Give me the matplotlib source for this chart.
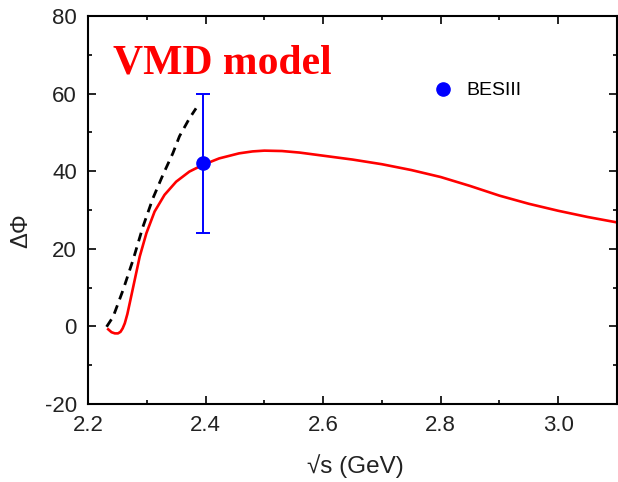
import matplotlib
matplotlib.use("Agg")
import matplotlib.pyplot as plt
import numpy as np

# VMD model curve (red)
vmd_x = [2.2344, 2.2400, 2.2457, 2.2510, 2.2553, 2.2590, 2.2626, 2.2670, 2.2710,
         2.2795, 2.2880, 2.2993, 2.3133, 2.3302, 2.3500, 2.3725, 2.3950, 2.4232,
         2.4570, 2.4800, 2.5000, 2.5300, 2.5600, 2.6000, 2.6500, 2.7000, 2.7500,
         2.8000, 2.8500, 2.9000, 2.9500, 3.0000, 3.0500, 3.1000]
vmd_y = [-0.75, -1.5, -1.8, -1.8, -1.4, -0.5, 0.8, 3.2, 6.0,
         12.0, 18.0, 24.0, 29.6, 33.9, 37.3, 39.9, 41.6, 43.3,
         44.6, 45.1, 45.3, 45.2, 44.8, 44.0, 43.0, 41.8, 40.3,
         38.5, 36.2, 33.7, 31.6, 29.8, 28.2, 26.8]

# dashed black curve
dash_x = [2.2316, 2.2428, 2.2597, 2.2766, 2.2935, 2.3104, 2.3273, 2.3443, 2.3556,
          2.3725, 2.3838]
dash_y = [-0.1, 2.5, 9.4, 17.1, 25.7, 33.0, 39.0, 44.6, 49.0, 53.6, 56.2]

# BESIII measurement
bes_x = [2.396]
bes_y = [42.0]
bes_err = [18.0]

sans = ["Liberation Sans", "DejaVu Sans"]
plt.rcParams["font.family"] = sans

fig = plt.figure(figsize=(6.18, 4.82), dpi=100)
ax = fig.add_axes([88 / 618, 78 / 482, 529 / 618, 388 / 482])

ax.plot(dash_x, dash_y, color="black", lw=2.0, ls=(0, (3.2, 2.3)))
ax.plot(vmd_x, vmd_y, color="#ff0000", lw=1.9)
ax.errorbar(bes_x, bes_y, yerr=bes_err, fmt="none", ecolor="#0000ff",
            elinewidth=1.4, capsize=5, capthick=1.4)
ax.plot(bes_x, bes_y, "o", color="#0000ff", ms=9.5, label="BESIII")

ax.set_xlim(2.2, 3.1)
ax.set_ylim(-20, 80)
ax.set_xticks([2.2, 2.4, 2.6, 2.8, 3.0])
ax.set_xticks(np.arange(2.3, 3.1, 0.2), minor=True)
ax.set_yticks([-20, 0, 20, 40, 60, 80])
ax.set_yticks([-10, 10, 30, 50, 70], minor=True)
ax.set_xticklabels(["2.2", "2.4", "2.6", "2.8", "3.0"])
ax.set_yticklabels(["-20", "0", "20", "40", "60", "80"])

ax.tick_params(which="both", direction="in", top=True, right=True,
               labelsize=16, labelcolor="#222222", pad=8, width=1.2)
ax.tick_params(which="major", length=5.5)
ax.tick_params(which="minor", length=3)
for sp in ax.spines.values():
    sp.set_linewidth(1.5)

ax.set_xlabel("√s (GeV)", fontsize=17.5, color="#222222", va="top")
ax.xaxis.set_label_coords(0.505, -0.13)
ax.set_ylabel("ΔΦ", fontsize=17, color="#222222")
ax.yaxis.set_label_coords(-0.106, 0.448)

ax.legend(loc="center left", bbox_to_anchor=(0.652, 0.8075), frameon=False,
          fontsize=14, handlelength=1.0, handletextpad=0.74, borderpad=0,
          borderaxespad=0, numpoints=1)

fig.text(113 / 618, (482 - 73) / 482, "VMD model", color="#ff0000",
         fontsize=30, fontweight="bold", family="Liberation Serif",
         va="baseline", ha="left")

fig.savefig("out.png", dpi=100)
